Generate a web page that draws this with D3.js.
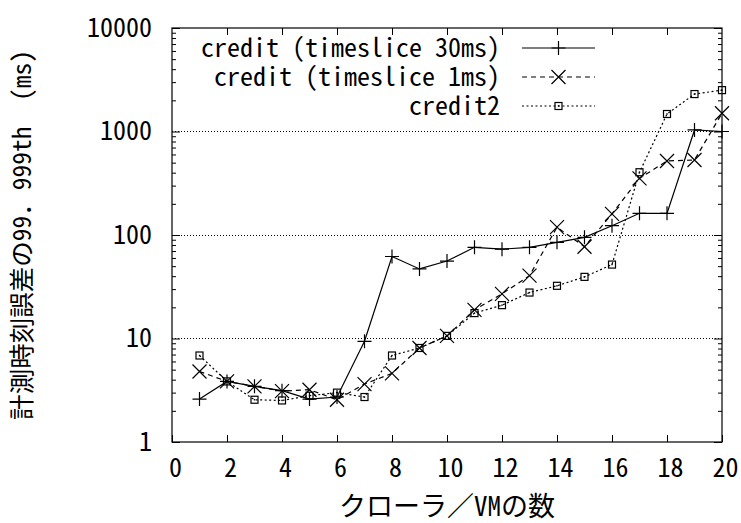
<!DOCTYPE html>
<html>
<head>
<meta charset="utf-8">
<script src="https://cdn.jsdelivr.net/npm/d3@7"></script>
<style>
  html, body { margin: 0; padding: 0; background: #fff; }
  svg { display: block; }
</style>
</head>
<body>
<svg id="chart" width="741" height="523"></svg>
<script>
// Number of crawler VMs
const vmCounts = [1, 2, 3, 4, 5, 6, 7, 8, 9, 10, 11, 12, 13, 14, 15, 16, 17, 18, 19, 20];

// 99.999th percentile of timer error (ms) per scheduler configuration
const credit30ms = [2.6, 3.85, 3.45, 3.13, 2.6, 2.72, 9.4, 62, 47, 56, 76, 73, 76, 85, 95, 123, 162, 162, 1035, 1000];
const credit1ms  = [4.8, 3.85, 3.45, 3.1, 3.2, 2.56, 3.63, 4.6, 8.1, 10.6, 18.9, 27, 40.5, 119, 77, 160, 353, 519, 531, 1500];
const credit2    = [6.85, 3.85, 2.56, 2.52, 2.8, 3.0, 2.72, 6.85, 8.1, 10.6, 17.6, 21, 27.8, 32.3, 39.4, 51.8, 404, 1476, 2300, 2510];

const seriesNames = ["credit (timeslice 30ms)", "credit (timeslice 1ms)", "credit2"];

const xTickValues = [0, 2, 4, 6, 8, 10, 12, 14, 16, 18, 20];
const yTickValues = [1, 10, 100, 1000, 10000];
const yGridValues = [10, 100, 1000];

const xTitle = "クローラ／VMの数";
const yTitle = "計測時刻誤差の99．999th　(ms)";

const FONT = "'Noto Sans Mono CJK JP', 'Noto Sans CJK JP', monospace";

const svg = d3.select("#chart");
const plotLeft = 172, plotRight = 722, plotTop = 28, plotBottom = 442;

const x = d3.scaleLinear().domain([0, 20]).range([plotLeft, plotRight]);
const y = d3.scaleLog().domain([1, 10000]).range([plotBottom, plotTop]);

// minor ticks of the log axis (2..9 within each decade)
const yMinor = [];
for (let d = 1; d < 10000; d *= 10) for (let k = 2; k <= 9; k++) yMinor.push(d * k);

// dotted horizontal grid
svg.append("g").selectAll("line").data(yGridValues).join("line")
  .attr("x1", plotLeft).attr("x2", plotRight)
  .attr("y1", d => y(d)).attr("y2", d => y(d))
  .attr("stroke", "#000").attr("stroke-width", 1)
  .attr("stroke-dasharray", "1,2").attr("shape-rendering", "crispEdges");

function styleAxis(g) {
  g.select(".domain").remove();
  g.selectAll(".tick line").attr("stroke", "#000").attr("stroke-width", 1);
  g.selectAll("text").attr("font-family", FONT).attr("font-size", 26).attr("fill", "#000");
}

// bottom axis with labels
svg.append("g").attr("transform", `translate(0,${plotBottom})`)
  .call(d3.axisBottom(x).tickValues(xTickValues).tickSize(-7).tickPadding(17).tickFormat(d3.format("d")))
  .call(styleAxis)
  .call(g => g.selectAll("text").attr("dx", 3));
// mirrored top ticks
svg.append("g").attr("transform", `translate(0,${plotTop})`)
  .call(d3.axisTop(x).tickValues(xTickValues.slice(1, -1)).tickSize(-7).tickFormat(""))
  .call(styleAxis);

// left axis, major ticks with labels
svg.append("g").attr("transform", `translate(${plotLeft},0)`)
  .call(d3.axisLeft(y).tickValues(yTickValues).tickSize(-8).tickPadding(20).tickFormat(d3.format("d")))
  .call(styleAxis);
// left minor ticks
svg.append("g").attr("transform", `translate(${plotLeft},0)`)
  .call(d3.axisLeft(y).tickValues(yMinor).tickSize(-4).tickFormat(""))
  .call(styleAxis);
// right mirrored ticks
svg.append("g").attr("transform", `translate(${plotRight},0)`)
  .call(d3.axisRight(y).tickValues(yTickValues).tickSize(-8).tickFormat(""))
  .call(styleAxis);
svg.append("g").attr("transform", `translate(${plotRight},0)`)
  .call(d3.axisRight(y).tickValues(yMinor).tickSize(-4).tickFormat(""))
  .call(styleAxis);

// plot frame
svg.append("rect")
  .attr("x", plotLeft).attr("y", plotTop).attr("width", plotRight - plotLeft).attr("height", plotBottom - plotTop)
  .attr("fill", "none").attr("stroke", "#000").attr("stroke-width", 1.2);

// marker shapes
const markers = {
  plus: g => g.append("path").attr("d", "M-7,0H7M0,-7V7"),
  cross: g => g.append("path").attr("d", "M-7,-7L7,7M-7,7L7,-7"),
  box: g => {
    g.append("rect").attr("x", -3.5).attr("y", -3.5).attr("width", 7).attr("height", 7).attr("fill", "none");
    g.append("rect").attr("x", -0.7).attr("y", -0.7).attr("width", 1.4).attr("height", 1.4).attr("fill", "#000").attr("stroke", "none");
  }
};

const series = [
  { name: seriesNames[0], values: credit30ms, dash: null, marker: "plus" },
  { name: seriesNames[1], values: credit1ms, dash: "5,4", marker: "cross" },
  { name: seriesNames[2], values: credit2, dash: "2,2.5", marker: "box" }
];

const line = d3.line().x(d => x(d[0])).y(d => y(d[1]));

series.forEach(s => {
  const pts = vmCounts.map((v, i) => [v, s.values[i]]);
  svg.append("path").datum(pts)
    .attr("d", line).attr("fill", "none")
    .attr("stroke", "#000").attr("stroke-width", 1.2)
    .attr("stroke-dasharray", s.dash);
  svg.append("g").selectAll("g").data(pts).join("g")
    .attr("transform", d => `translate(${x(d[0])},${y(d[1])})`)
    .attr("stroke", "#000").attr("stroke-width", 1.2).attr("fill", "none")
    .each(function () { markers[s.marker](d3.select(this)); });
});

// legend
const legend = svg.append("g");
series.forEach((s, i) => {
  const ly = 48 + i * 29;
  legend.append("text")
    .attr("x", 500).attr("y", ly).attr("dy", "0.35em")
    .attr("text-anchor", "end")
    .attr("font-family", FONT).attr("font-size", 26).attr("fill", "#000")
    .text(s.name);
  legend.append("line")
    .attr("x1", 522).attr("x2", 595).attr("y1", ly).attr("y2", ly)
    .attr("stroke", "#000").attr("stroke-width", 1.2)
    .attr("stroke-dasharray", s.dash);
  const mg = legend.append("g")
    .attr("transform", `translate(558.5,${ly})`)
    .attr("stroke", "#000").attr("stroke-width", 1.2).attr("fill", "none");
  markers[s.marker](mg);
});

// axis titles
svg.append("text")
  .attr("x", (plotLeft + plotRight) / 2).attr("y", 516)
  .attr("text-anchor", "middle")
  .attr("font-family", FONT).attr("font-size", 27).attr("fill", "#000")
  .text(xTitle);

svg.append("text")
  .attr("transform", `translate(22,${(plotTop + plotBottom) / 2}) rotate(-90)`)
  .attr("text-anchor", "middle").attr("dy", "0.35em")
  .attr("font-family", FONT).attr("font-size", 25.5).attr("fill", "#000")
  .text(yTitle);
</script>
</body>
</html>
